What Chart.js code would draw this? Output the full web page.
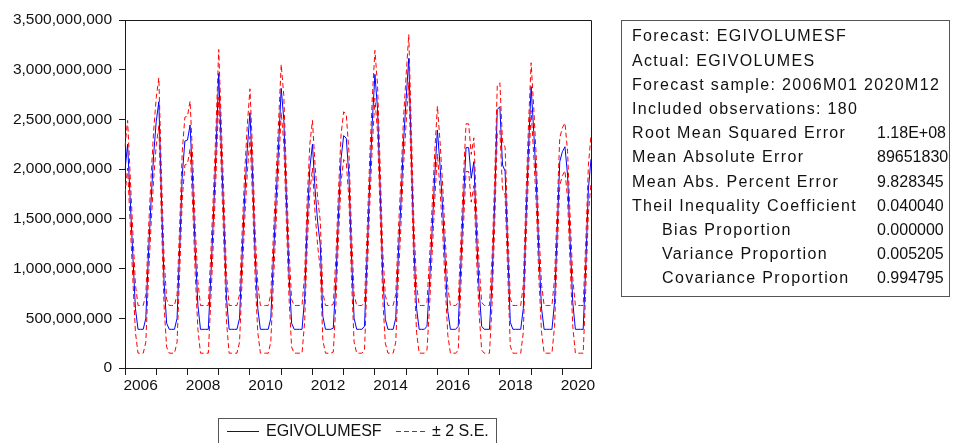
<!DOCTYPE html>
<html>
<head>
<meta charset="utf-8">
<script src="https://cdn.jsdelivr.net/npm/chart.js@4.4.1/dist/chart.umd.min.js"></script>
<style>
  html, body { margin: 0; padding: 0; background: #ffffff; }
  #wrap { width: 961px; height: 443px; position: relative; }
</style>
</head>
<body>
<div id="wrap"><canvas id="c"></canvas></div>
<script>
// ---------------- DATA ----------------
const years = [2006, 2007, 2008, 2009, 2010, 2011, 2012, 2013, 2014, 2015, 2016, 2017, 2018, 2019, 2020];
const monthCodes = ['M01','M02','M03','M04','M05','M06','M07','M08','M09','M10','M11','M12'];
const yearTickLabels = ['2006', '2008', '2010', '2012', '2014', '2016', '2018', '2020'];

// EGIVOLUMESF forecast, 2006M01..2020M12
const forecast = [
  1990e6, 2250e6, 1690e6, 1140e6, 600e6, 389e6, 389e6, 389e6, 500e6, 1136e6, 1673e6, 2142e6,
  2480e6, 2678e6, 1710e6, 870e6, 450e6, 389e6, 389e6, 389e6, 500e6, 1200e6, 1940e6, 2283e6,
  2293e6, 2444e6, 1870e6, 1170e6, 630e6, 389e6, 389e6, 389e6, 389e6, 940e6, 1540e6, 2210e6,
  2963e6, 2210e6, 1475e6, 700e6, 389e6, 389e6, 389e6, 389e6, 500e6, 1136e6, 1740e6, 2210e6,
  2568e6, 1940e6, 1136e6, 600e6, 389e6, 389e6, 389e6, 389e6, 500e6, 1100e6, 1670e6, 2240e6,
  2813e6, 2500e6, 1700e6, 950e6, 450e6, 389e6, 389e6, 389e6, 389e6, 700e6, 1470e6, 2010e6,
  2250e6, 1800e6, 1470e6, 1240e6, 520e6, 389e6, 389e6, 389e6, 400e6, 870e6, 1540e6, 2110e6,
  2337e6, 2310e6, 1940e6, 1136e6, 500e6, 389e6, 389e6, 389e6, 420e6, 1136e6, 1870e6, 2480e6,
  2954e6, 2610e6, 1800e6, 940e6, 490e6, 389e6, 389e6, 389e6, 500e6, 1136e6, 1670e6, 2280e6,
  2710e6, 3114e6, 2140e6, 1200e6, 600e6, 389e6, 389e6, 389e6, 420e6, 870e6, 1400e6, 1940e6,
  2394e6, 2042e6, 1610e6, 1070e6, 570e6, 389e6, 389e6, 389e6, 420e6, 1040e6, 1670e6, 2216e6,
  2216e6, 1908e6, 2075e6, 1370e6, 800e6, 420e6, 389e6, 389e6, 389e6, 880e6, 1670e6, 2600e6,
  2628e6, 2042e6, 1980e6, 1200e6, 460e6, 389e6, 389e6, 389e6, 389e6, 600e6, 1470e6, 2210e6,
  2830e6, 2380e6, 1870e6, 1136e6, 600e6, 389e6, 389e6, 389e6, 389e6, 660e6, 1370e6, 2075e6,
  2175e6, 2225e6, 1940e6, 1270e6, 660e6, 389e6, 389e6, 389e6, 389e6, 1040e6, 1800e6, 2100e6
];

// + 2 S.E. band
const upperBand = [
  2230e6, 2490e6, 1930e6, 1380e6, 840e6, 629e6, 629e6, 629e6, 740e6, 1376e6, 1913e6, 2382e6,
  2720e6, 2918e6, 1950e6, 1110e6, 690e6, 629e6, 629e6, 629e6, 740e6, 1440e6, 2180e6, 2523e6,
  2533e6, 2684e6, 2110e6, 1410e6, 870e6, 629e6, 629e6, 629e6, 629e6, 1180e6, 1780e6, 2450e6,
  3203e6, 2450e6, 1715e6, 940e6, 629e6, 629e6, 629e6, 629e6, 740e6, 1376e6, 1980e6, 2450e6,
  2808e6, 2180e6, 1376e6, 840e6, 629e6, 629e6, 629e6, 629e6, 740e6, 1340e6, 1910e6, 2480e6,
  3053e6, 2740e6, 1940e6, 1190e6, 690e6, 629e6, 629e6, 629e6, 629e6, 940e6, 1710e6, 2250e6,
  2490e6, 2040e6, 1710e6, 1480e6, 760e6, 629e6, 629e6, 629e6, 640e6, 1110e6, 1780e6, 2350e6,
  2577e6, 2550e6, 2180e6, 1376e6, 740e6, 629e6, 629e6, 629e6, 660e6, 1376e6, 2110e6, 2720e6,
  3194e6, 2850e6, 2040e6, 1180e6, 730e6, 629e6, 629e6, 629e6, 740e6, 1376e6, 1910e6, 2520e6,
  2950e6, 3354e6, 2380e6, 1440e6, 840e6, 629e6, 629e6, 629e6, 660e6, 1110e6, 1640e6, 2180e6,
  2634e6, 2282e6, 1850e6, 1310e6, 810e6, 629e6, 629e6, 629e6, 660e6, 1280e6, 1910e6, 2456e6,
  2456e6, 2148e6, 2315e6, 1610e6, 1040e6, 660e6, 629e6, 629e6, 629e6, 1120e6, 1910e6, 2840e6,
  2868e6, 2282e6, 2220e6, 1440e6, 700e6, 629e6, 629e6, 629e6, 629e6, 840e6, 1710e6, 2450e6,
  3070e6, 2620e6, 2110e6, 1376e6, 840e6, 629e6, 629e6, 629e6, 629e6, 900e6, 1610e6, 2315e6,
  2415e6, 2465e6, 2180e6, 1510e6, 900e6, 629e6, 629e6, 629e6, 629e6, 1280e6, 2040e6, 2340e6
];

// - 2 S.E. band
const lowerBand = [
  1750e6, 2010e6, 1450e6, 900e6, 360e6, 149e6, 149e6, 149e6, 260e6, 896e6, 1433e6, 1902e6,
  2240e6, 2438e6, 1470e6, 630e6, 210e6, 149e6, 149e6, 149e6, 260e6, 960e6, 1700e6, 2043e6,
  2053e6, 2204e6, 1630e6, 930e6, 390e6, 149e6, 149e6, 149e6, 149e6, 700e6, 1300e6, 1970e6,
  2723e6, 1970e6, 1235e6, 460e6, 149e6, 149e6, 149e6, 149e6, 260e6, 896e6, 1500e6, 1970e6,
  2328e6, 1700e6, 896e6, 360e6, 149e6, 149e6, 149e6, 149e6, 260e6, 860e6, 1430e6, 2000e6,
  2573e6, 2260e6, 1460e6, 710e6, 210e6, 149e6, 149e6, 149e6, 149e6, 460e6, 1230e6, 1770e6,
  2010e6, 1560e6, 1230e6, 1000e6, 280e6, 149e6, 149e6, 149e6, 160e6, 630e6, 1300e6, 1870e6,
  2097e6, 2070e6, 1700e6, 896e6, 260e6, 149e6, 149e6, 149e6, 180e6, 896e6, 1630e6, 2240e6,
  2714e6, 2370e6, 1560e6, 700e6, 250e6, 149e6, 149e6, 149e6, 260e6, 896e6, 1430e6, 2040e6,
  2470e6, 2874e6, 1900e6, 960e6, 360e6, 149e6, 149e6, 149e6, 180e6, 630e6, 1160e6, 1700e6,
  2154e6, 1802e6, 1370e6, 830e6, 330e6, 149e6, 149e6, 149e6, 180e6, 800e6, 1430e6, 1976e6,
  1976e6, 1668e6, 1835e6, 1130e6, 560e6, 180e6, 149e6, 149e6, 149e6, 640e6, 1430e6, 2360e6,
  2388e6, 1802e6, 1740e6, 960e6, 220e6, 149e6, 149e6, 149e6, 149e6, 360e6, 1230e6, 1970e6,
  2590e6, 2140e6, 1630e6, 896e6, 360e6, 149e6, 149e6, 149e6, 149e6, 420e6, 1130e6, 1835e6,
  1935e6, 1985e6, 1700e6, 1030e6, 420e6, 149e6, 149e6, 149e6, 149e6, 800e6, 1560e6, 1860e6
];

const statsLabels = [
  'Forecast: EGIVOLUMESF',
  'Actual: EGIVOLUMES',
  'Forecast sample: 2006M01 2020M12',
  'Included observations: 180',
  'Root Mean Squared Error',
  'Mean Absolute Error',
  'Mean Abs. Percent Error',
  'Theil Inequality Coefficient',
  '   Bias Proportion',
  '   Variance Proportion',
  '   Covariance Proportion'
];
const statsValues = ['', '', '', '', '1.18E+08', '89651830', '9.828345', '0.040040', '0.000000', '0.005205', '0.994795'];

const legendLabels = ['EGIVOLUMESF', '\u00B1 2 S.E.'];

// category labels 2006M01 ... 2020M12
const xLabels = [];
years.forEach(y => monthCodes.forEach(m => xLabels.push(y + m)));

// ---------------- CHART ----------------
const FONT = '"Liberation Sans", Arial, Helvetica, sans-serif';

const decorPlugin = {
  id: 'decor',
  afterDraw(chart) {
    const ctx = chart.ctx;
    const a = chart.chartArea;
    ctx.save();
    // plot frame (top and right sides)
    ctx.strokeStyle = '#1a1a1a';
    ctx.lineWidth = 1;
    ctx.beginPath();
    ctx.moveTo(Math.round(a.left) + 0.5, Math.round(a.top) + 0.5);
    ctx.lineTo(Math.round(a.right) + 0.5, Math.round(a.top) + 0.5);
    ctx.lineTo(Math.round(a.right) + 0.5, Math.round(a.bottom) + 0.5);
    ctx.stroke();

    // statistics box
    ctx.strokeStyle = '#555';
    ctx.strokeRect(621.5, 20.5, 328, 276);
    ctx.fillStyle = '#111';
    ctx.font = '16px ' + FONT;
    ctx.textBaseline = 'middle';
    ctx.textAlign = 'left';
    statsLabels.forEach((lab, k) => {
      const y = 37 + k * 24.2;
      const indent = lab.startsWith('   ');
      ctx.letterSpacing = '1.35px';
      ctx.fillText(lab.trim(), indent ? 662 : 632, y);
      ctx.letterSpacing = '0px';
      if (statsValues[k]) ctx.fillText(statsValues[k], 877, y);
    });

    // legend box
    ctx.strokeStyle = '#555';
    ctx.strokeRect(218.5, 418.5, 278, 40);
    const ly = 431.5;
    ctx.strokeStyle = '#0000ff';
    ctx.beginPath(); ctx.moveTo(227, ly); ctx.lineTo(259, ly); ctx.stroke();
    ctx.fillStyle = '#111';
    ctx.fillText(legendLabels[0], 266, ly);
    ctx.strokeStyle = '#ff0000';
    ctx.setLineDash([5, 3]);
    ctx.beginPath(); ctx.moveTo(396, ly); ctx.lineTo(428, ly); ctx.stroke();
    ctx.setLineDash([]);
    ctx.fillText(legendLabels[1], 432, ly);
    ctx.restore();
  }
};

new Chart(document.getElementById('c'), {
  type: 'line',
  data: {
    labels: xLabels,
    datasets: [
      { label: legendLabels[0], data: forecast, borderColor: '#0000ff', borderWidth: 1, pointRadius: 0, tension: 0, order: 1 },
      { label: '+2 S.E.', data: upperBand, borderColor: '#ff0000', borderWidth: 1, borderDash: [5, 3], pointRadius: 0, tension: 0, order: 0 },
      { label: '-2 S.E.', data: lowerBand, borderColor: '#ff0000', borderWidth: 1, borderDash: [5, 3], pointRadius: 0, tension: 0, order: 0 }
    ]
  },
  options: {
    responsive: true,
    maintainAspectRatio: false,
    animation: false,
    events: [],
    layout: { padding: { left: 0, top: 20, right: 370, bottom: 0 } },
    plugins: { legend: { display: false }, tooltip: { enabled: false } },
    scales: {
      x: {
        type: 'category',
        offset: false,
        afterFit(scale) { scale.height = 75; },
        border: { display: true, color: '#1a1a1a', width: 1 },
        grid: {
          drawOnChartArea: false,
          drawTicks: true,
          tickLength: 7,
          tickColor: (c) => (c.index % 12 === 0 ? '#1a1a1a' : 'rgba(0,0,0,0)')
        },
        ticks: {
          autoSkip: false,
          maxRotation: 0,
          minRotation: 0,
          padding: 1,
          color: '#111',
          font: { family: FONT, size: 15.5 },
          // year label centred in the middle of its year (EViews style)
          callback: function (value, index) {
            const lab = xLabels[index];
            if (lab.endsWith('M07') && yearTickLabels.includes(lab.slice(0, 4))) return lab.slice(0, 4);
            return '';
          }
        }
      },
      y: {
        min: 0,
        max: 3500000000,
        afterFit(scale) { scale.width = 125; },
        border: { display: true, color: '#1a1a1a', width: 1 },
        grid: { drawOnChartArea: false, drawTicks: true, tickLength: 6, tickColor: '#1a1a1a' },
        ticks: {
          stepSize: 500000000,
          padding: 7,
          color: '#111',
          font: { family: FONT, size: 15.5 },
          callback: (v) => Number(v).toLocaleString('en-US')
        }
      }
    }
  },
  plugins: [decorPlugin]
});
</script>
</body>
</html>
